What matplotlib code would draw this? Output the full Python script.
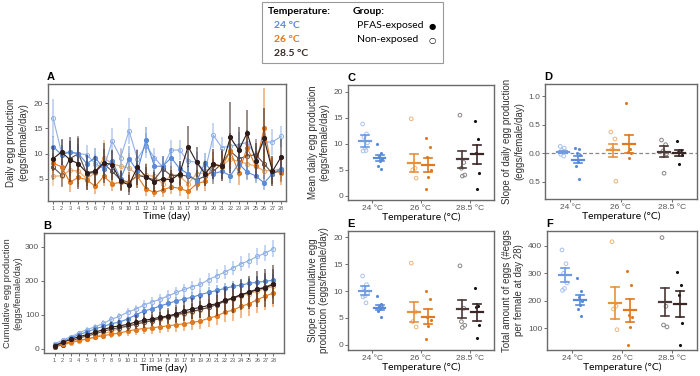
import matplotlib.pyplot as plt
from matplotlib.patches import Rectangle

plt.rcParams['font.family'] = ['Liberation Sans', 'DejaVu Sans']

days = list(range(1, 29))
temps = ['24 °C', '26 °C', '28.5 °C']

# panel A: daily egg production, mean and error per group
a_24_non = [17.1, 10.2, 10.3, 10.0, 9.8, 8.0, 7.0, 12.5, 9.2, 14.5, 9.0, 11.6, 9.2, 7.3, 10.7, 10.7, 8.5, 8.3, 6.5, 13.6, 11.2, 11.5, 11.8, 12.2, 9.6, 12.3, 12.3, 13.4]
a_24_non_err = [3.8, 2.5, 2.2, 2.0, 2.0, 2.0, 2.5, 2.5, 2.0, 2.5, 2.0, 2.5, 2.0, 2.0, 2.0, 2.0, 2.0, 2.0, 2.0, 2.5, 2.0, 2.0, 2.5, 2.5, 2.0, 2.5, 2.5, 2.0]
a_24_exp = [11.4, 9.8, 10.3, 10.0, 8.0, 9.2, 7.0, 8.5, 5.0, 9.0, 6.5, 12.7, 7.5, 7.5, 9.2, 7.0, 6.0, 4.5, 8.2, 6.0, 6.5, 5.6, 8.0, 6.3, 5.6, 4.2, 6.0, 7.0]
a_24_exp_err = [2.0, 2.0, 1.5, 1.5, 2.0, 2.0, 1.5, 2.0, 1.5, 2.5, 2.0, 2.5, 2.0, 2.0, 2.0, 1.5, 1.5, 1.5, 2.0, 1.5, 1.5, 1.5, 2.0, 1.5, 1.5, 1.5, 1.5, 1.5]
a_26_non = [5.5, 5.6, 6.7, 6.5, 5.0, 6.2, 9.2, 8.0, 7.5, 7.2, 5.7, 5.7, 5.5, 4.0, 5.8, 5.5, 4.0, 6.0, 6.2, 8.0, 7.5, 9.0, 8.4, 8.0, 7.5, 6.6, 6.6, 7.0]
a_26_non_err = [2.0, 2.0, 2.5, 2.5, 2.0, 2.5, 3.5, 3.0, 3.5, 3.0, 2.5, 2.5, 2.5, 2.0, 2.5, 2.0, 2.0, 2.5, 2.5, 3.0, 3.0, 3.5, 3.0, 3.0, 3.0, 3.0, 3.0, 2.5]
a_26_exp = [8.1, 7.4, 4.3, 5.3, 4.8, 3.5, 5.5, 4.0, 4.3, 4.4, 5.5, 3.0, 2.3, 2.8, 3.4, 3.1, 2.5, 4.0, 4.5, 7.8, 7.4, 10.5, 6.2, 11.2, 7.5, 15.0, 6.6, 6.2]
a_26_exp_err = [2.0, 2.0, 2.0, 2.0, 2.0, 1.5, 2.0, 1.5, 1.5, 1.5, 2.0, 1.5, 1.0, 1.5, 1.5, 1.5, 1.5, 1.5, 2.0, 2.5, 2.5, 3.0, 2.5, 3.5, 2.5, 8.0, 2.5, 2.5]
a_285_non = [7.3, 5.8, 9.0, 10.0, 6.0, 6.3, 8.0, 6.5, 4.8, 4.3, 5.7, 5.3, 4.8, 7.0, 5.6, 5.8, 5.5, 4.8, 5.5, 6.5, 8.0, 10.5, 9.0, 9.5, 9.8, 8.0, 6.0, 6.8]
a_285_non_err = [2.5, 2.5, 3.5, 3.5, 2.5, 2.5, 3.0, 2.5, 2.0, 2.0, 2.5, 2.0, 2.0, 2.5, 2.0, 2.0, 2.0, 2.0, 2.0, 2.5, 3.0, 3.5, 3.0, 3.0, 3.0, 3.0, 2.0, 2.5]
a_285_exp = [9.0, 10.3, 8.8, 8.0, 6.2, 6.5, 8.2, 7.8, 4.5, 3.8, 7.3, 5.4, 4.4, 5.0, 4.8, 6.0, 11.4, 8.3, 6.0, 7.9, 7.5, 13.2, 10.7, 14.1, 8.6, 13.0, 6.5, 9.3]
a_285_exp_err = [2.5, 2.5, 4.5, 5.0, 3.5, 3.0, 4.0, 3.0, 2.0, 2.0, 3.5, 2.5, 2.0, 2.5, 2.0, 2.5, 4.0, 3.0, 2.5, 3.0, 3.0, 7.0, 4.5, 4.5, 3.5, 6.0, 3.0, 3.5]

# panel B: cumulative egg production
b_24_non = [15, 26, 36, 47, 57, 65, 75, 87, 96, 108, 117, 129, 138, 146, 156, 166, 175, 183, 190, 204, 215, 226, 238, 250, 260, 272, 282, 295]
b_24_non_err = [3, 4, 5, 6, 7, 8, 9, 10, 11, 12, 13, 14, 14, 15, 16, 17, 17, 18, 18, 19, 20, 21, 22, 22, 23, 24, 24, 25]
b_24_exp = [11, 21, 32, 42, 50, 59, 66, 74, 79, 88, 100, 111, 118, 126, 134, 141, 147, 152, 160, 166, 172, 178, 184, 188, 193, 196, 199, 202]
b_24_exp_err = [2, 3, 4, 5, 6, 7, 7, 8, 9, 9, 10, 11, 11, 12, 12, 13, 13, 14, 14, 15, 15, 16, 16, 16, 17, 17, 18, 18]
b_26_non = [6, 11, 18, 24, 29, 35, 44, 52, 60, 67, 73, 79, 84, 88, 94, 99, 103, 109, 115, 123, 131, 140, 148, 156, 163, 170, 177, 184]
b_26_non_err = [2, 4, 5, 7, 8, 10, 12, 13, 15, 16, 17, 18, 19, 20, 21, 22, 23, 24, 25, 27, 28, 30, 31, 32, 33, 34, 35, 36]
b_26_exp = [8, 15, 20, 25, 30, 34, 39, 43, 47, 52, 57, 60, 62, 65, 68, 71, 74, 78, 82, 90, 97, 108, 114, 125, 133, 145, 155, 165]
b_26_exp_err = [2, 4, 5, 7, 8, 9, 11, 12, 13, 14, 15, 16, 17, 18, 19, 20, 21, 22, 23, 25, 27, 29, 31, 33, 35, 38, 40, 42]
b_285_non = [7, 13, 22, 32, 38, 44, 52, 58, 63, 67, 73, 78, 83, 90, 95, 101, 106, 111, 116, 122, 130, 140, 149, 158, 168, 176, 182, 192]
b_285_non_err = [2, 4, 6, 8, 9, 10, 12, 13, 14, 15, 16, 17, 18, 19, 20, 21, 22, 23, 24, 26, 28, 31, 33, 35, 37, 39, 41, 43]
b_285_exp = [9, 19, 28, 36, 42, 49, 57, 64, 68, 72, 79, 84, 88, 93, 97, 103, 112, 118, 122, 128, 133, 143, 150, 160, 166, 175, 180, 190]
b_285_exp_err = [2, 4, 7, 9, 11, 12, 14, 16, 17, 18, 20, 21, 22, 23, 24, 26, 29, 31, 32, 34, 36, 40, 43, 46, 49, 53, 56, 58]

# panel C: mean daily egg production (individual females)
c_24_non = [13.8, 11.9, 11.3, 10.2, 9.2, 8.6, 8.7]
c_24_exp = [10.0, 8.3, 7.6, 7.0, 6.6, 5.8, 5.1]
c_26_non = [14.8, 5.3, 5.0, 3.4]
c_26_exp = [11.1, 9.3, 7.4, 4.9, 3.6, 1.3]
c_285_non = [15.5, 6.4, 5.3, 4.0, 3.8]
c_285_exp = [14.3, 10.9, 8.2, 4.4, 1.4]
c_mean = [10.5, 7.2, 6.3, 5.9, 7.0, 8.0]
c_se = [1.1, 0.6, 1.7, 1.4, 1.7, 1.8]

# panel D: slope of daily egg production
d_24_non = [0.12, 0.09, 0.05, 0.03, 0.01, -0.02, -0.05]
d_24_exp = [0.09, 0.07, 0.01, -0.03, -0.15, -0.23, -0.45]
d_26_non = [0.37, 0.25, 0.07, -0.49]
d_26_exp = [0.88, 0.08, 0.03, 0.0, -0.09]
d_285_non = [0.23, 0.15, 0.04, -0.01, -0.35]
d_285_exp = [0.22, 0.06, 0.02, -0.03, -0.18]
d_mean = [0.02, -0.11, 0.05, 0.16, 0.03, 0.01]
d_se = [0.02, 0.06, 0.12, 0.15, 0.09, 0.05]
d_ticks = [-0.5, 0.0, 0.5, 1.0]
d_ticklabels = ['0.5', '0.0', '0.5', '1.0']

# panel E: slope of cumulative egg production
e_24_non = [12.8, 11.2, 10.6, 9.6, 9.1, 8.9, 7.8]
e_24_exp = [9.0, 7.6, 7.2, 7.0, 6.6, 6.2, 5.2]
e_26_non = [15.2, 6.1, 4.3, 3.3]
e_26_exp = [10.1, 8.6, 5.2, 4.6, 3.4, 1.1]
e_285_non = [14.7, 6.8, 4.3, 3.6, 3.2]
e_285_exp = [10.6, 7.3, 7.0, 3.6, 1.3]
e_mean = [10.1, 6.9, 6.1, 5.2, 6.6, 6.0]
e_se = [0.9, 0.5, 1.9, 1.4, 1.7, 1.6]

# panel F: total eggs per female at day 28
f_24_non = [385, 335, 300, 265, 245, 238]
f_24_exp = [282, 236, 215, 200, 186, 170, 145]
f_26_non = [415, 180, 170, 95]
f_26_exp = [310, 258, 150, 140, 105, 38]
f_285_non = [430, 180, 112, 105]
f_285_exp = [305, 258, 222, 120, 40]
f_mean = [295, 202, 192, 165, 195, 188]
f_se = [25, 18, 58, 42, 50, 48]

# colours: (exposed, non-exposed) per temperature
col_exp = ['#5b8bd8', '#e0781e', '#2e1c1a']
col_non = ['#8fb0e8', '#eba866', '#5e4e4c']
pt_non = ['#a9c2ec', '#eeb47a', '#8a8585']
bar_non = ['#6f9be0', '#e5923e', '#4b3a38']
tick_col = '#555555'
lf = ['Lato', 'DejaVu Sans']

fig = plt.figure(figsize=(7, 3.76), dpi=100)


def frame(ax):
    for s in ax.spines.values():
        s.set_color('#6a6a6a')
        s.set_linewidth(1.0)
    ax.tick_params(colors=tick_col, labelsize=6, length=2, width=0.6, pad=1.5)
    for lab in ax.get_xticklabels() + ax.get_yticklabels():
        lab.set_color(tick_col)


def letter(ax, s):
    ax.text(-0.005, 1.015, s, transform=ax.transAxes, fontsize=8, fontweight='bold', va='bottom', ha='left')


def time_panel(ax, series, ylim):
    for y, err, c, filled in series:
        z = 3 if filled else 2
        ax.errorbar(days, y, yerr=err, fmt='none', ecolor=c, elinewidth=1.3, alpha=0.55, zorder=z)
        ax.plot(days, y, color=c, lw=0.8, marker='o', ms=3.0,
                mfc=c if filled else 'none', mew=0.7, zorder=z)
    ax.set_xlim(0.4, 28.6)
    ax.set_ylim(*ylim)
    ax.set_xticks(days)
    ax.set_xticklabels([str(d) for d in days])
    frame(ax)
    ax.tick_params(axis='x', labelsize=4)
    ax.set_xlabel('Time (day)', fontsize=7.5, family=lf, labelpad=0.5)


# ---- A
axA = fig.add_axes([48 / 700, 1 - 201 / 376, 238 / 700, 117 / 376])
time_panel(axA, [
    (a_26_non, a_26_non_err, col_non[1], False),
    (a_24_non, a_24_non_err, col_non[0], False),
    (a_285_non, a_285_non_err, col_non[2], False),
    (a_26_exp, a_26_exp_err, col_exp[1], True),
    (a_24_exp, a_24_exp_err, col_exp[0], True),
    (a_285_exp, a_285_exp_err, col_exp[2], True),
], (0.6, 23.8))
axA.set_yticks([5, 10, 15, 20])
axA.set_ylabel('Daily egg production\n(eggs/female/day)', fontsize=7, color='#333333', labelpad=4)
letter(axA, 'A')

# ---- B
axB = fig.add_axes([44 / 700, 1 - 353 / 376, 240 / 700, 120 / 376])
time_panel(axB, [
    (b_26_non, b_26_non_err, col_non[1], False),
    (b_24_non, b_24_non_err, col_non[0], False),
    (b_285_non, b_285_non_err, col_non[2], False),
    (b_26_exp, b_26_exp_err, col_exp[1], True),
    (b_24_exp, b_24_exp_err, col_exp[0], True),
    (b_285_exp, b_285_exp_err, col_exp[2], True),
], (-12, 341))
axB.set_xlim(-0.3, 29.3)
axB.set_yticks([0, 100, 200, 300])
axB.set_ylabel('Cumulative egg production\n(eggs/female/day)', fontsize=6.6, color='#333333', labelpad=1.5)
letter(axB, 'B')

jit = [-0.05, 0.03, -0.02, 0.05, 0.0, -0.04, 0.02]


def group_panel(ax, groups, means, ses, ylim, yticks):
    k = 0
    for i in range(3):
        for exposed in [False, True]:
            x0 = i + 1 + (0.15 if exposed else -0.15)
            pts = groups[k]
            xs = [x0 + jit[n % len(jit)] for n in range(len(pts))]
            if exposed:
                pc = col_exp[i] if i < 2 else '#111111'
                ax.scatter(xs, pts, s=5, color=pc, zorder=2, linewidths=0)
                bc = col_exp[i] if i < 2 else '#3b2626'
            else:
                ax.scatter(xs, pts, s=7, facecolors='none', edgecolors=pt_non[i], linewidths=0.7, zorder=2)
                bc = bar_non[i]
            m, se = means[k], ses[k]
            ax.plot([x0, x0], [m - se, m + se], color=bc, lw=1.2, zorder=3)
            ax.plot([x0 - 0.08, x0 + 0.08], [m - se, m - se], color=bc, lw=1.2, zorder=3)
            ax.plot([x0 - 0.08, x0 + 0.08], [m + se, m + se], color=bc, lw=1.2, zorder=3)
            ax.plot([x0 - 0.12, x0 + 0.12], [m, m], color=bc, lw=1.6, zorder=3)
            k += 1
    ax.set_xlim(0.5, 3.5)
    ax.set_ylim(*ylim)
    ax.set_xticks([1, 2, 3])
    ax.set_xticklabels(temps)
    ax.set_yticks(yticks)
    frame(ax)
    ax.set_xlabel('Temperature (°C)', fontsize=7.5, family=lf, labelpad=0.5)


# ---- C
axC = fig.add_axes([348 / 700, 1 - 200 / 376, 146 / 700, 115 / 376])
group_panel(axC, [c_24_non, c_24_exp, c_26_non, c_26_exp, c_285_non, c_285_exp],
            c_mean, c_se, (-0.8, 21.3), [0, 5, 10, 15, 20])
axC.set_ylabel('Mean daily egg production\n(eggs/female/day)', fontsize=7, color='#333333', labelpad=3)
letter(axC, 'C')

# ---- D
axD = fig.add_axes([545 / 700, 1 - 199 / 376, 152 / 700, 115 / 376])
axD.axhline(0, color='#888888', lw=0.9, ls=(0, (3, 2)), zorder=1)
group_panel(axD, [d_24_non, d_24_exp, d_26_non, d_26_exp, d_285_non, d_285_exp],
            d_mean, d_se, (-0.8, 1.21), d_ticks)
axD.set_yticklabels(d_ticklabels)
for lab in axD.get_yticklabels():
    lab.set_color(tick_col)
axD.set_ylabel('Slope of daily egg production\n(eggs/female/day)', fontsize=7, color='#333333', labelpad=3)
letter(axD, 'D')

# ---- E
axE = fig.add_axes([348 / 700, 1 - 350 / 376, 146 / 700, 119 / 376])
group_panel(axE, [e_24_non, e_24_exp, e_26_non, e_26_exp, e_285_non, e_285_exp],
            e_mean, e_se, (-1.0, 21.2), [0, 5, 10, 15, 20])
axE.set_ylabel('Slope of cumulative egg\nproduction (eggs/female/day)', fontsize=7, color='#333333', labelpad=3)
letter(axE, 'E')

# ---- F
axF = fig.add_axes([547 / 700, 1 - 350 / 376, 150 / 700, 119 / 376])
group_panel(axF, [f_24_non, f_24_exp, f_26_non, f_26_exp, f_285_non, f_285_exp],
            f_mean, f_se, (21, 454), [100, 200, 300, 400])
axF.set_ylabel('Total amount of eggs (#eggs\nper female at day 28)', fontsize=7, color='#333333', labelpad=3)
letter(axF, 'F')

# ---- legend box
fig.patches.append(Rectangle((262 / 700, 1 - 63 / 376), 181 / 700, 61 / 376, transform=fig.transFigure,
                             facecolor='white', edgecolor='#9a9a9a', lw=0.8))
fig.text(268 / 700, 1 - 12 / 376, 'Temperature:', fontsize=7.5, fontweight='bold', family=lf, va='center')
fig.text(274 / 700, 1 - 26 / 376, '24 °C', fontsize=7.5, fontweight='bold', family=lf, va='center', color='#5b8bd8')
fig.text(274 / 700, 1 - 40 / 376, '26 °C', fontsize=7.5, fontweight='bold', family=lf, va='center', color='#e0781e')
fig.text(274 / 700, 1 - 54 / 376, '28.5 °C', fontsize=7.5, fontweight='bold', family=lf, va='center', color='#3a2a28')
fig.text(353 / 700, 1 - 12 / 376, 'Group:', fontsize=7.5, fontweight='bold', family=lf, va='center')
fig.text(357 / 700, 1 - 26 / 376, 'PFAS-exposed', fontsize=7.5, family=lf, va='center')
fig.text(357 / 700, 1 - 40 / 376, 'Non-exposed', fontsize=7.5, family=lf, va='center')
fig.text(432 / 700, 1 - 26 / 376, '●', fontsize=6, family=['DejaVu Sans'], va='center', ha='center')
fig.text(432 / 700, 1 - 40 / 376, '○', fontsize=6, family=['DejaVu Sans'], va='center', ha='center')

fig.savefig('out.png', dpi=100)
